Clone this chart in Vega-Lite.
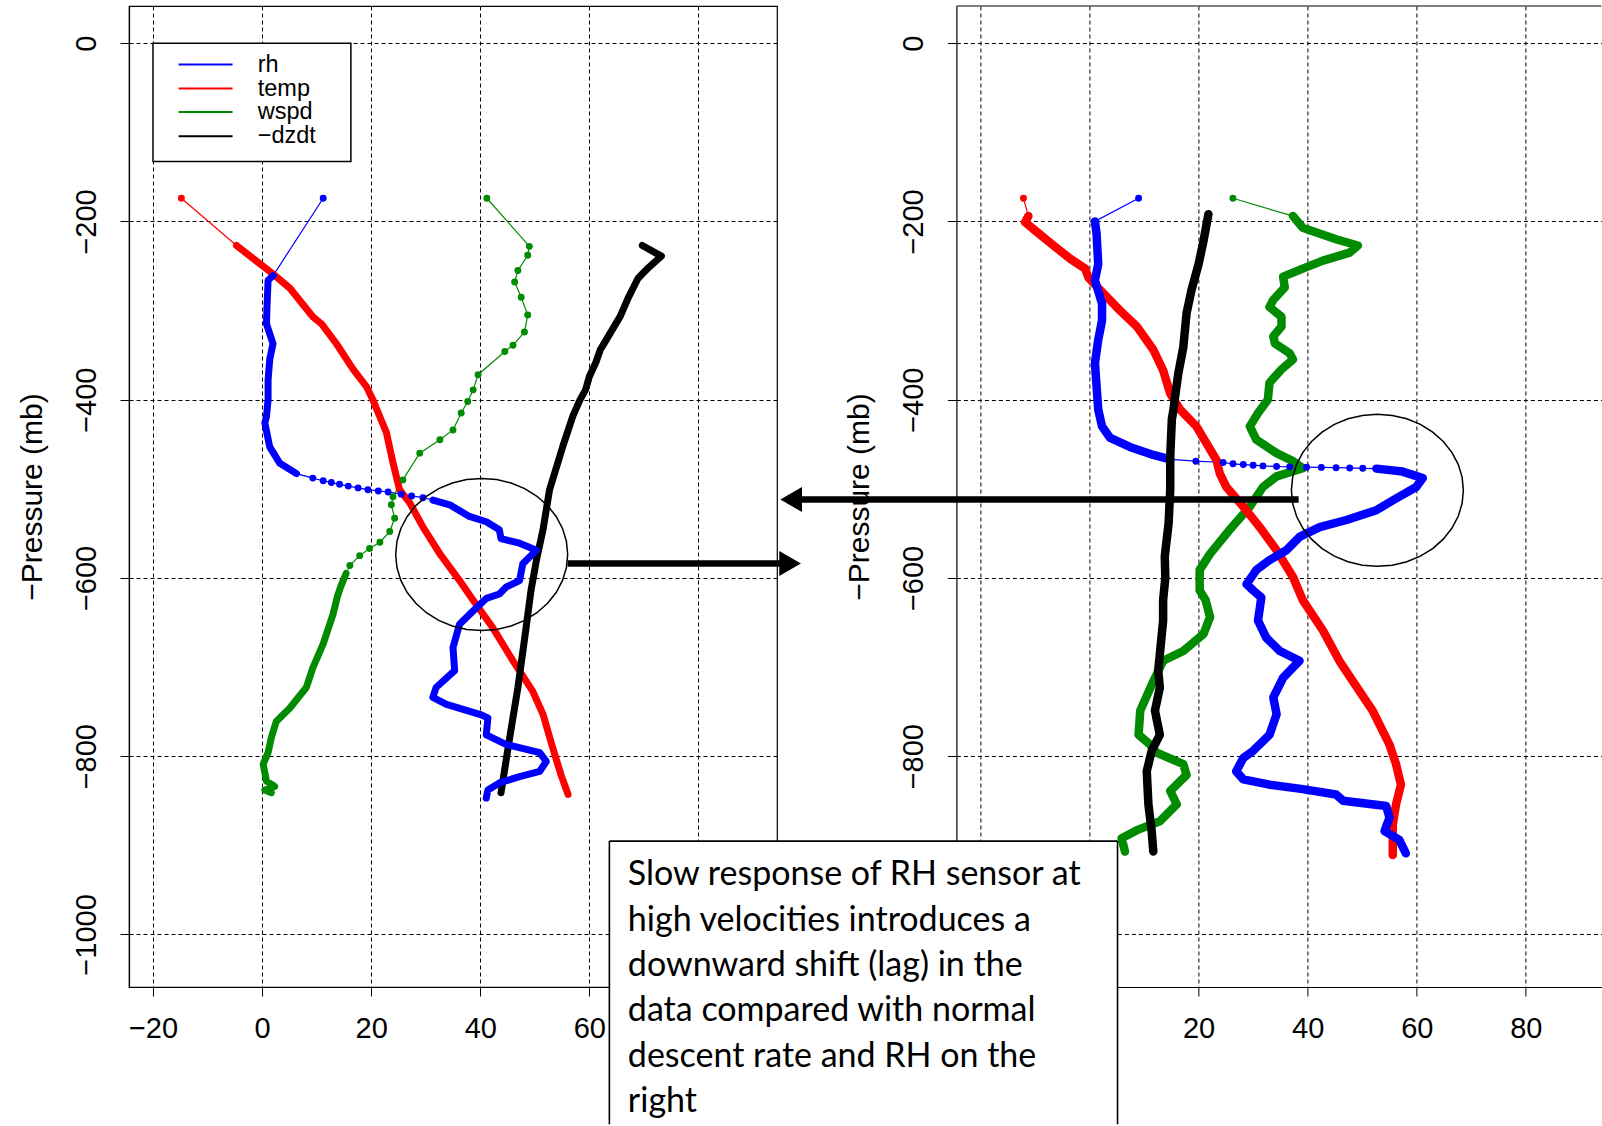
{
  "$schema": "https://vega.github.io/schema/vega-lite/v6.json",
  "background": "white",
  "padding": {"left": 16, "top": 5, "right": 0, "bottom": 0},
  "bounds": "flush",
  "spacing": 179.4,
  "resolve": {"scale": {"x": "independent", "y": "independent"}},
  "config": {
    "font": "Liberation Sans",
    "legend": {"disable": true},
    "view": {"stroke": "black", "strokeWidth": 1.2},
    "axis": {
      "grid": true, "gridColor": "black", "gridDash": [4, 3], "gridWidth": 1, "gridOpacity": 1,
      "domain": true, "domainColor": "black", "domainWidth": 1.2,
      "tickColor": "black", "tickSize": 9, "tickWidth": 1,
      "labelColor": "black", "labelFont": "Liberation Sans", "labelFontSize": 29,
      "labelFlush": false, "labelOverlap": false,
      "titleColor": "black", "titleFont": "Liberation Sans", "titleFontSize": 30, "titleFontWeight": "normal"
    },
    "axisX": {"labelPadding": 18},
    "axisY": {"labelAngle": -90, "labelAlign": "center", "labelBaseline": "alphabetic", "labelPadding": 25, "titlePadding": 25}
  },
  "datasets": {
    "left": [
      {"series":"wspd","p":-174,"v":41.2},{"series":"wspd","p":-228,"v":49.0},{"series":"wspd","p":-238,"v":48.7},{"series":"wspd","p":-255,"v":46.9},{"series":"wspd","p":-268,"v":46.3},{"series":"wspd","p":-285,"v":47.5},{"series":"wspd","p":-305,"v":48.7},{"series":"wspd","p":-324,"v":48.1},{"series":"wspd","p":-339,"v":46.0},{"series":"wspd","p":-346,"v":44.5},{"series":"wspd","p":-372,"v":39.6},{"series":"wspd","p":-389,"v":38.7},{"series":"wspd","p":-402,"v":37.7},{"series":"wspd","p":-415,"v":36.5},{"series":"wspd","p":-434,"v":35.0},{"series":"wspd","p":-445,"v":32.6},{"series":"wspd","p":-460,"v":28.9},{"series":"wspd","p":-490,"v":25.8},{"series":"wspd","p":-509,"v":24.0},{"series":"wspd","p":-518,"v":23.7},{"series":"wspd","p":-533,"v":24.3},{"series":"wspd","p":-548,"v":23.4},{"series":"wspd","p":-560,"v":21.6},{"series":"wspd","p":-567,"v":19.7},{"series":"wspd","p":-575,"v":17.9},{"series":"wspd","p":-586,"v":16.1},{"series":"wspd","p":-595,"v":15.4},{"series":"wspd","p":-610,"v":14.4},{"series":"wspd","p":-621,"v":13.8},{"series":"wspd","p":-641,"v":13.0},{"series":"wspd","p":-674,"v":11.2},{"series":"wspd","p":-701,"v":9.3},{"series":"wspd","p":-723,"v":8.1},{"series":"wspd","p":-746,"v":5.1},{"series":"wspd","p":-761,"v":2.6},{"series":"wspd","p":-779,"v":1.7},{"series":"wspd","p":-796,"v":1.1},{"series":"wspd","p":-809,"v":0.2},{"series":"wspd","p":-828,"v":0.8},{"series":"wspd","p":-834,"v":2.3},{"series":"wspd","p":-838,"v":0.5},{"series":"wspd","p":-841,"v":1.7},
      {"series":"temp","p":-174,"v":-14.8},{"series":"temp","p":-227,"v":-4.7},{"series":"temp","p":-249,"v":-0.1},{"series":"temp","p":-259,"v":2.0},{"series":"temp","p":-275,"v":5.1},{"series":"temp","p":-307,"v":9.3},{"series":"temp","p":-315,"v":10.9},{"series":"temp","p":-337,"v":13.6},{"series":"temp","p":-366,"v":16.7},{"series":"temp","p":-385,"v":19.1},{"series":"temp","p":-400,"v":20.3},{"series":"temp","p":-415,"v":21.3},{"series":"temp","p":-437,"v":22.8},{"series":"temp","p":-471,"v":24.0},{"series":"temp","p":-501,"v":25.2},{"series":"temp","p":-516,"v":27.1},{"series":"temp","p":-543,"v":29.5},{"series":"temp","p":-573,"v":32.6},{"series":"temp","p":-603,"v":36.2},{"series":"temp","p":-625,"v":38.7},{"series":"temp","p":-656,"v":42.3},{"series":"temp","p":-693,"v":46.0},{"series":"temp","p":-727,"v":49.6},{"series":"temp","p":-753,"v":51.5},{"series":"temp","p":-791,"v":53.3},{"series":"temp","p":-821,"v":54.8},{"series":"temp","p":-843,"v":56.1},
      {"series":"rh","p":-174,"v":11.2},{"series":"rh","p":-261,"v":2.0},{"series":"rh","p":-266,"v":1.1},{"series":"rh","p":-296,"v":0.9},{"series":"rh","p":-315,"v":0.8},{"series":"rh","p":-337,"v":2.0},{"series":"rh","p":-355,"v":1.4},{"series":"rh","p":-378,"v":1.1},{"series":"rh","p":-400,"v":1.1},{"series":"rh","p":-419,"v":0.8},{"series":"rh","p":-426,"v":0.5},{"series":"rh","p":-453,"v":1.4},{"series":"rh","p":-471,"v":3.2},{"series":"rh","p":-483,"v":6.3},{"series":"rh","p":-488,"v":9.3},{"series":"rh","p":-491,"v":11.2},{"series":"rh","p":-493,"v":12.7},{"series":"rh","p":-495,"v":14.2},{"series":"rh","p":-497,"v":15.8},{"series":"rh","p":-499,"v":17.6},{"series":"rh","p":-501,"v":19.4},{"series":"rh","p":-502.4,"v":21.3},{"series":"rh","p":-503.6,"v":23.1},{"series":"rh","p":-506,"v":25.5},{"series":"rh","p":-508,"v":27.4},{"series":"rh","p":-510,"v":29.5},{"series":"rh","p":-512.6,"v":31.3},{"series":"rh","p":-518,"v":34.4},{"series":"rh","p":-531,"v":38.0},{"series":"rh","p":-537,"v":41.1},{"series":"rh","p":-546,"v":43.5},{"series":"rh","p":-556,"v":43.8},{"series":"rh","p":-561,"v":47.2},{"series":"rh","p":-569,"v":50.3},{"series":"rh","p":-584,"v":47.8},{"series":"rh","p":-603,"v":47.2},{"series":"rh","p":-610,"v":44.8},{"series":"rh","p":-618,"v":43.5},{"series":"rh","p":-623,"v":41.1},{"series":"rh","p":-637,"v":38.7},{"series":"rh","p":-652,"v":36.2},{"series":"rh","p":-678,"v":35.0},{"series":"rh","p":-704,"v":35.3},{"series":"rh","p":-723,"v":31.9},{"series":"rh","p":-734,"v":31.3},{"series":"rh","p":-742,"v":33.8},{"series":"rh","p":-753,"v":39.9},{"series":"rh","p":-757,"v":41.4},{"series":"rh","p":-776,"v":41.1},{"series":"rh","p":-787,"v":44.8},{"series":"rh","p":-796,"v":50.9},{"series":"rh","p":-806,"v":52.1},{"series":"rh","p":-817,"v":50.9},{"series":"rh","p":-823,"v":47.2},{"series":"rh","p":-830,"v":43.5},{"series":"rh","p":-838,"v":41.4},{"series":"rh","p":-847,"v":41.1},
      {"series":"−dzdt","p":-227,"v":69.7},{"series":"−dzdt","p":-239,"v":73.2},{"series":"−dzdt","p":-252,"v":70.8},{"series":"−dzdt","p":-264,"v":68.9},{"series":"−dzdt","p":-286,"v":67.1},{"series":"−dzdt","p":-306,"v":65.7},{"series":"−dzdt","p":-338,"v":62.6},{"series":"−dzdt","p":-344,"v":62.0},{"series":"−dzdt","p":-358,"v":61.2},{"series":"−dzdt","p":-374,"v":60.0},{"series":"−dzdt","p":-389,"v":59.3},{"series":"−dzdt","p":-400,"v":58.3},{"series":"−dzdt","p":-418,"v":57.0},{"series":"−dzdt","p":-453,"v":55.1},{"series":"−dzdt","p":-501,"v":52.7},{"series":"−dzdt","p":-546,"v":51.5},{"series":"−dzdt","p":-580,"v":50.3},{"series":"−dzdt","p":-614,"v":49.3},{"series":"−dzdt","p":-656,"v":48.4},{"series":"−dzdt","p":-723,"v":46.9},{"series":"−dzdt","p":-779,"v":45.4},{"series":"−dzdt","p":-841,"v":43.8}
    ],
    "right": [
      {"series":"wspd","p":-174,"v":26.3},{"series":"wspd","p":-194,"v":37.3},{"series":"wspd","p":-207,"v":39.1},{"series":"wspd","p":-220,"v":45.2},{"series":"wspd","p":-227,"v":49.2},{"series":"wspd","p":-235,"v":47.7},{"series":"wspd","p":-244,"v":42.8},{"series":"wspd","p":-253,"v":39.1},{"series":"wspd","p":-262,"v":35.5},{"series":"wspd","p":-274,"v":35.8},{"series":"wspd","p":-288,"v":33.7},{"series":"wspd","p":-296,"v":33.0},{"series":"wspd","p":-307,"v":35.2},{"series":"wspd","p":-318,"v":35.2},{"series":"wspd","p":-329,"v":33.7},{"series":"wspd","p":-337,"v":34.0},{"series":"wspd","p":-348,"v":36.7},{"series":"wspd","p":-355,"v":37.3},{"series":"wspd","p":-366,"v":35.2},{"series":"wspd","p":-381,"v":33.0},{"series":"wspd","p":-400,"v":32.7},{"series":"wspd","p":-415,"v":30.9},{"series":"wspd","p":-430,"v":29.4},{"series":"wspd","p":-445,"v":30.6},{"series":"wspd","p":-460,"v":34.3},{"series":"wspd","p":-469,"v":37.3},{"series":"wspd","p":-477,"v":39.1},{"series":"wspd","p":-486,"v":34.3},{"series":"wspd","p":-498,"v":31.8},{"series":"wspd","p":-520,"v":29.4},{"series":"wspd","p":-546,"v":25.7},{"series":"wspd","p":-573,"v":22.1},{"series":"wspd","p":-591,"v":20.2},{"series":"wspd","p":-614,"v":20.2},{"series":"wspd","p":-625,"v":21.3},{"series":"wspd","p":-644,"v":22.1},{"series":"wspd","p":-663,"v":20.9},{"series":"wspd","p":-682,"v":17.2},{"series":"wspd","p":-693,"v":13.5},{"series":"wspd","p":-716,"v":11.7},{"series":"wspd","p":-749,"v":9.3},{"series":"wspd","p":-776,"v":9.0},{"series":"wspd","p":-787,"v":11.1},{"series":"wspd","p":-796,"v":12.3},{"series":"wspd","p":-809,"v":17.2},{"series":"wspd","p":-821,"v":17.8},{"series":"wspd","p":-839,"v":14.8},{"series":"wspd","p":-854,"v":16.0},{"series":"wspd","p":-873,"v":12.9},{"series":"wspd","p":-883,"v":8.7},{"series":"wspd","p":-892,"v":5.9},{"series":"wspd","p":-907,"v":6.5},
      {"series":"temp","p":-174,"v":-12.1},{"series":"temp","p":-194,"v":-11.2},{"series":"temp","p":-201,"v":-11.8},{"series":"temp","p":-212,"v":-9.6},{"series":"temp","p":-227,"v":-6.6},{"series":"temp","p":-242,"v":-3.5},{"series":"temp","p":-253,"v":-0.8},{"series":"temp","p":-263,"v":-0.2},{"series":"temp","p":-281,"v":2.6},{"series":"temp","p":-300,"v":5.6},{"series":"temp","p":-318,"v":8.7},{"series":"temp","p":-344,"v":11.7},{"series":"temp","p":-367,"v":13.5},{"series":"temp","p":-393,"v":14.8},{"series":"temp","p":-411,"v":16.6},{"series":"temp","p":-430,"v":19.6},{"series":"temp","p":-468,"v":23.3},{"series":"temp","p":-483,"v":23.9},{"series":"temp","p":-498,"v":25.1},{"series":"temp","p":-520,"v":28.2},{"series":"temp","p":-543,"v":31.2},{"series":"temp","p":-569,"v":34.3},{"series":"temp","p":-599,"v":37.3},{"series":"temp","p":-625,"v":39.1},{"series":"temp","p":-659,"v":42.8},{"series":"temp","p":-693,"v":45.8},{"series":"temp","p":-727,"v":49.5},{"series":"temp","p":-749,"v":51.9},{"series":"temp","p":-787,"v":55.0},{"series":"temp","p":-809,"v":56.2},{"series":"temp","p":-832,"v":57.1},{"series":"temp","p":-854,"v":56.2},{"series":"temp","p":-877,"v":55.6},{"series":"temp","p":-911,"v":55.6},
      {"series":"rh","p":-174,"v":9.0},{"series":"rh","p":-200,"v":1.0},{"series":"rh","p":-214,"v":1.3},{"series":"rh","p":-248,"v":1.6},{"series":"rh","p":-266,"v":1.0},{"series":"rh","p":-292,"v":2.3},{"series":"rh","p":-311,"v":2.3},{"series":"rh","p":-333,"v":1.6},{"series":"rh","p":-359,"v":1.0},{"series":"rh","p":-385,"v":1.3},{"series":"rh","p":-411,"v":1.6},{"series":"rh","p":-430,"v":2.3},{"series":"rh","p":-443,"v":3.8},{"series":"rh","p":-453,"v":7.4},{"series":"rh","p":-462,"v":11.7},{"series":"rh","p":-467,"v":14.8},{"series":"rh","p":-469,"v":19.5},{"series":"rh","p":-470.5,"v":24.5},{"series":"rh","p":-472,"v":26.3},{"series":"rh","p":-472.8,"v":28.2},{"series":"rh","p":-473.5,"v":30.0},{"series":"rh","p":-474.3,"v":31.8},{"series":"rh","p":-475,"v":34.3},{"series":"rh","p":-475.4,"v":36.7},{"series":"rh","p":-475.8,"v":39.8},{"series":"rh","p":-476.0,"v":42.5},{"series":"rh","p":-476.3,"v":45.2},{"series":"rh","p":-476.6,"v":47.7},{"series":"rh","p":-477.0,"v":50.1},{"series":"rh","p":-477.4,"v":52.6},{"series":"rh","p":-480.7,"v":57.4},{"series":"rh","p":-488,"v":61.1},{"series":"rh","p":-498,"v":59.9},{"series":"rh","p":-513,"v":55.6},{"series":"rh","p":-524,"v":52.6},{"series":"rh","p":-535,"v":47.1},{"series":"rh","p":-543,"v":42.2},{"series":"rh","p":-554,"v":38.5},{"series":"rh","p":-569,"v":36.1},{"series":"rh","p":-580,"v":33.0},{"series":"rh","p":-591,"v":30.6},{"series":"rh","p":-607,"v":28.8},{"series":"rh","p":-614,"v":30.0},{"series":"rh","p":-622,"v":31.5},{"series":"rh","p":-648,"v":30.9},{"series":"rh","p":-667,"v":32.4},{"series":"rh","p":-682,"v":34.9},{"series":"rh","p":-693,"v":38.5},{"series":"rh","p":-712,"v":35.5},{"series":"rh","p":-734,"v":33.7},{"series":"rh","p":-753,"v":34.3},{"series":"rh","p":-776,"v":33.0},{"series":"rh","p":-794,"v":30.0},{"series":"rh","p":-802,"v":28.2},{"series":"rh","p":-817,"v":26.9},{"series":"rh","p":-826,"v":28.2},{"series":"rh","p":-832,"v":33.0},{"series":"rh","p":-837,"v":39.1},{"series":"rh","p":-843,"v":45.2},{"series":"rh","p":-850,"v":46.5},{"series":"rh","p":-856,"v":54.4},{"series":"rh","p":-869,"v":55.0},{"series":"rh","p":-884,"v":54.1},{"series":"rh","p":-894,"v":56.8},{"series":"rh","p":-909,"v":58.0},
      {"series":"−dzdt","p":-192,"v":21.8},{"series":"−dzdt","p":-222,"v":20.9},{"series":"−dzdt","p":-248,"v":20.0},{"series":"−dzdt","p":-277,"v":18.7},{"series":"−dzdt","p":-303,"v":17.8},{"series":"−dzdt","p":-341,"v":17.2},{"series":"−dzdt","p":-370,"v":16.3},{"series":"−dzdt","p":-396,"v":15.7},{"series":"−dzdt","p":-411,"v":15.4},{"series":"−dzdt","p":-422,"v":15.1},{"series":"−dzdt","p":-464,"v":14.8},{"series":"−dzdt","p":-501,"v":14.8},{"series":"−dzdt","p":-539,"v":14.5},{"series":"−dzdt","p":-576,"v":13.8},{"series":"−dzdt","p":-600,"v":13.9},{"series":"−dzdt","p":-625,"v":13.5},{"series":"−dzdt","p":-648,"v":13.5},{"series":"−dzdt","p":-704,"v":12.6},{"series":"−dzdt","p":-723,"v":12.9},{"series":"−dzdt","p":-749,"v":12.0},{"series":"−dzdt","p":-776,"v":12.9},{"series":"−dzdt","p":-794,"v":11.4},{"series":"−dzdt","p":-817,"v":10.5},{"series":"−dzdt","p":-854,"v":10.8},{"series":"−dzdt","p":-884,"v":11.4},{"series":"−dzdt","p":-907,"v":11.7}
    ]
  },
  "hconcat": [
    {
      "width": 648,
      "height": 981,
      "layer": [
        {
          "data": {"name": "left"},
          "mark": {"type": "line", "strokeWidth": 1.2},
          "encoding": {
            "x": {"field": "v", "type": "quantitative", "scale": {"domain": [-24.4, 94.4], "nice": false, "zero": false}, "axis": {"values": [-20, 0, 20, 40, 60, 80], "format": "d", "title": null}},
            "y": {"field": "p", "type": "quantitative", "scale": {"domain": [-1059, 41.7], "nice": false, "zero": false}, "axis": {"values": [0, -200, -400, -600, -800, -1000], "format": "d", "title": "−Pressure (mb)"}},
            "color": {"field": "series", "type": "nominal", "scale": {"domain": ["rh", "temp", "wspd", "−dzdt"], "range": ["#0000FF", "#FF0000", "#008B00", "#000000"]}},
            "order": {"field": "p", "type": "quantitative", "sort": "descending"}
          }
        },
        {
          "data": {"name": "left"},
          "transform": [{"filter": "datum.p < -180 && (datum.series != 'wspd' || datum.p < -588) && (datum.series != 'rh' || datum.p > -484)"}],
          "mark": {"type": "line", "strokeWidth": 7, "strokeCap": "round", "strokeJoin": "round"},
          "encoding": {
            "x": {"field": "v", "type": "quantitative"},
            "y": {"field": "p", "type": "quantitative"},
            "color": {"field": "series", "type": "nominal"},
            "order": {"field": "p", "type": "quantitative", "sort": "descending"}
          }
        },
        {
          "data": {"name": "left"},
          "transform": [{"filter": "datum.series == 'rh' && datum.p < -511"}],
          "mark": {"type": "line", "strokeWidth": 7, "strokeCap": "round", "strokeJoin": "round"},
          "encoding": {
            "x": {"field": "v", "type": "quantitative"},
            "y": {"field": "p", "type": "quantitative"},
            "color": {"field": "series", "type": "nominal"},
            "order": {"field": "p", "type": "quantitative", "sort": "descending"}
          }
        },
        {
          "data": {"name": "left"},
          "transform": [{"filter": "datum.p > -180 || (datum.series == 'rh' && datum.p <= -484 && datum.p >= -511) || (datum.series == 'wspd' && datum.p >= -588)"}],
          "mark": {"type": "point", "filled": true, "size": 48, "opacity": 1},
          "encoding": {
            "x": {"field": "v", "type": "quantitative"},
            "y": {"field": "p", "type": "quantitative"},
            "color": {"field": "series", "type": "nominal"}
          }
        },
        {
          "data": {"values": [{}]},
          "mark": {"type": "rect", "fill": "white", "stroke": "black", "strokeWidth": 1.5},
          "encoding": {"x": {"datum": -20}, "x2": {"datum": 16.28}, "y": {"datum": 0}, "y2": {"datum": -132.8}}
        },
        {"data": {"values": [{}]}, "mark": {"type": "rule", "strokeWidth": 2, "color": "#0000FF"}, "encoding": {"x": {"datum": -15.31}, "x2": {"datum": -5.41}, "y": {"datum": -24.05}}},
        {"data": {"values": [{}]}, "mark": {"type": "rule", "strokeWidth": 2, "color": "#FF0000"}, "encoding": {"x": {"datum": -15.31}, "x2": {"datum": -5.41}, "y": {"datum": -50.98}}},
        {"data": {"values": [{}]}, "mark": {"type": "rule", "strokeWidth": 2, "color": "#008B00"}, "encoding": {"x": {"datum": -15.31}, "x2": {"datum": -5.41}, "y": {"datum": -77.23}}},
        {"data": {"values": [{}]}, "mark": {"type": "rule", "strokeWidth": 2, "color": "#000000"}, "encoding": {"x": {"datum": -15.31}, "x2": {"datum": -5.41}, "y": {"datum": -104.5}}},
        {"data": {"values": [{}]}, "mark": {"type": "text", "text": "rh", "align": "left", "baseline": "middle", "font": "Liberation Sans", "fontSize": 23.5, "color": "black"}, "encoding": {"x": {"datum": -0.8}, "y": {"datum": -24.05}}},
        {"data": {"values": [{}]}, "mark": {"type": "text", "text": "temp", "align": "left", "baseline": "middle", "font": "Liberation Sans", "fontSize": 23.5, "color": "black"}, "encoding": {"x": {"datum": -0.8}, "y": {"datum": -50.98}}},
        {"data": {"values": [{}]}, "mark": {"type": "text", "text": "wspd", "align": "left", "baseline": "middle", "font": "Liberation Sans", "fontSize": 23.5, "color": "black"}, "encoding": {"x": {"datum": -0.8}, "y": {"datum": -77.23}}},
        {"data": {"values": [{}]}, "mark": {"type": "text", "text": "−dzdt", "align": "left", "baseline": "middle", "font": "Liberation Sans", "fontSize": 23.5, "color": "black"}, "encoding": {"x": {"datum": -0.8}, "y": {"datum": -104.5}}},
        {
          "data": {"values": [{}]},
          "mark": {"type": "point", "shape": "M1,0L0.985,0.154L0.94,0.302L0.866,0.442L0.766,0.568L0.643,0.677L0.5,0.766L0.342,0.831L0.174,0.871L0,0.884L-0.174,0.871L-0.342,0.831L-0.5,0.766L-0.643,0.677L-0.766,0.568L-0.866,0.442L-0.94,0.302L-0.985,0.154L-1,0L-0.985,-0.154L-0.94,-0.302L-0.866,-0.442L-0.766,-0.568L-0.643,-0.677L-0.5,-0.766L-0.342,-0.831L-0.174,-0.871L0,-0.884L0.174,-0.871L0.342,-0.831L0.5,-0.766L0.643,-0.677L0.766,-0.568L0.866,-0.442L0.94,-0.302L0.985,-0.154Z", "size": 29584, "filled": false, "stroke": "black", "strokeWidth": 1.5, "opacity": 1},
          "encoding": {"x": {"datum": 40.26}, "y": {"datum": -573.7}}
        },
        {"data": {"values": [{}]}, "mark": {"type": "rule", "strokeWidth": 6.5, "color": "black"}, "encoding": {"x": {"datum": 56.01}, "x2": {"datum": 94.93}, "y": {"datum": -583.9}}},
        {"data": {"values": [{}]}, "mark": {"type": "point", "shape": "triangle-right", "size": 625, "filled": true, "color": "black", "opacity": 1}, "encoding": {"x": {"datum": 96.8}, "y": {"datum": -583.9}}}
      ]
    },
    {
      "width": 645,
      "height": 981,
      "view": {"stroke": null},
      "layer": [
        {
          "data": {"name": "right"},
          "mark": {"type": "line", "strokeWidth": 1.2},
          "encoding": {
            "x": {"field": "v", "type": "quantitative", "scale": {"domain": [-24.4, 93.85], "nice": false, "zero": false}, "axis": {"values": [-20, 0, 20, 40, 60, 80], "format": "d", "title": null}},
            "y": {"field": "p", "type": "quantitative", "scale": {"domain": [-1059, 41.7], "nice": false, "zero": false}, "axis": {"values": [0, -200, -400, -600, -800, -1000], "format": "d", "title": "−Pressure (mb)"}},
            "color": {"field": "series", "type": "nominal", "scale": {"domain": ["rh", "temp", "wspd", "−dzdt"], "range": ["#0000FF", "#FF0000", "#008B00", "#000000"]}},
            "order": {"field": "p", "type": "quantitative", "sort": "descending"}
          }
        },
        {
          "data": {"name": "right"},
          "transform": [{"filter": "datum.p < -180 && (datum.series != 'rh' || datum.p > -468)"}],
          "mark": {"type": "line", "strokeWidth": 8.5, "strokeCap": "round", "strokeJoin": "round"},
          "encoding": {
            "x": {"field": "v", "type": "quantitative"},
            "y": {"field": "p", "type": "quantitative"},
            "color": {"field": "series", "type": "nominal"},
            "order": {"field": "p", "type": "quantitative", "sort": "descending"}
          }
        },
        {
          "data": {"name": "right"},
          "transform": [{"filter": "datum.series == 'rh' && datum.p < -477.2"}],
          "mark": {"type": "line", "strokeWidth": 8.5, "strokeCap": "round", "strokeJoin": "round"},
          "encoding": {
            "x": {"field": "v", "type": "quantitative"},
            "y": {"field": "p", "type": "quantitative"},
            "color": {"field": "series", "type": "nominal"},
            "order": {"field": "p", "type": "quantitative", "sort": "descending"}
          }
        },
        {
          "data": {"name": "right"},
          "transform": [{"filter": "datum.p > -180 || (datum.series == 'rh' && datum.p <= -468 && datum.p >= -477.2)"}],
          "mark": {"type": "point", "filled": true, "size": 48, "opacity": 1},
          "encoding": {
            "x": {"field": "v", "type": "quantitative"},
            "y": {"field": "p", "type": "quantitative"},
            "color": {"field": "series", "type": "nominal"}
          }
        },
        {"data": {"values": [{}]}, "mark": {"type": "rule", "strokeWidth": 1.2, "color": "black"}, "encoding": {"x": {"datum": -24.4}, "x2": {"datum": 93.85}, "y": {"datum": 41.7}}},
        {
          "data": {"values": [{}]},
          "mark": {"type": "point", "shape": "M1,0L0.985,0.154L0.94,0.302L0.866,0.442L0.766,0.568L0.643,0.677L0.5,0.766L0.342,0.831L0.174,0.871L0,0.884L-0.174,0.871L-0.342,0.831L-0.5,0.766L-0.643,0.677L-0.766,0.568L-0.866,0.442L-0.94,0.302L-0.985,0.154L-1,0L-0.985,-0.154L-0.94,-0.302L-0.866,-0.442L-0.766,-0.568L-0.643,-0.677L-0.5,-0.766L-0.342,-0.831L-0.174,-0.871L0,-0.884L0.174,-0.871L0.342,-0.831L0.5,-0.766L0.643,-0.677L0.766,-0.568L0.866,-0.442L0.94,-0.302L0.985,-0.154Z", "size": 29584, "filled": false, "stroke": "black", "strokeWidth": 1.5, "opacity": 1},
          "encoding": {"x": {"datum": 52.78}, "y": {"datum": -501.7}}
        },
        {"data": {"values": [{}]}, "mark": {"type": "rule", "strokeWidth": 6.5, "color": "black"}, "encoding": {"x": {"datum": 38.34}, "x2": {"datum": -52.73}, "y": {"datum": -512.1}}},
        {"data": {"values": [{}]}, "mark": {"type": "point", "shape": "triangle-left", "size": 625, "filled": true, "color": "black", "opacity": 1}, "encoding": {"x": {"datum": -54.69}, "y": {"datum": -512.1}}},
        {"data": {"values": [{}]}, "mark": {"type": "rect", "fill": "white", "strokeWidth": 0}, "encoding": {"x": {"datum": -88.02}, "x2": {"datum": 5.14}, "y": {"datum": -895.3}, "y2": {"datum": -1214.7}}},
        {"data": {"values": [{}]}, "mark": {"type": "rule", "strokeWidth": 1.6, "color": "black"}, "encoding": {"x": {"datum": -88.02}, "x2": {"datum": 5.14}, "y": {"datum": -895.3}}},
        {"data": {"values": [{}]}, "mark": {"type": "rule", "strokeWidth": 1.6, "color": "black"}, "encoding": {"x": {"datum": -88.02}, "y": {"datum": -895.3}, "y2": {"datum": -1213.0}}},
        {"data": {"values": [{}]}, "mark": {"type": "rule", "strokeWidth": 1.6, "color": "black"}, "encoding": {"x": {"datum": 5.14}, "y": {"datum": -895.3}, "y2": {"datum": -1213.0}}},
        {
          "data": {"values": [{}]},
          "mark": {"type": "text", "text": ["Slow response of RH sensor at", "high velocities introduces a", "downward shift (lag) in the", "data compared with normal", "descent rate and RH on the", "right"], "align": "left", "baseline": "alphabetic", "font": "Lato", "fontSize": 34, "lineHeight": 45.3, "color": "black"},
          "encoding": {"x": {"datum": -84.63}, "y": {"datum": -945.0}}
        }
      ]
    }
  ]
}
